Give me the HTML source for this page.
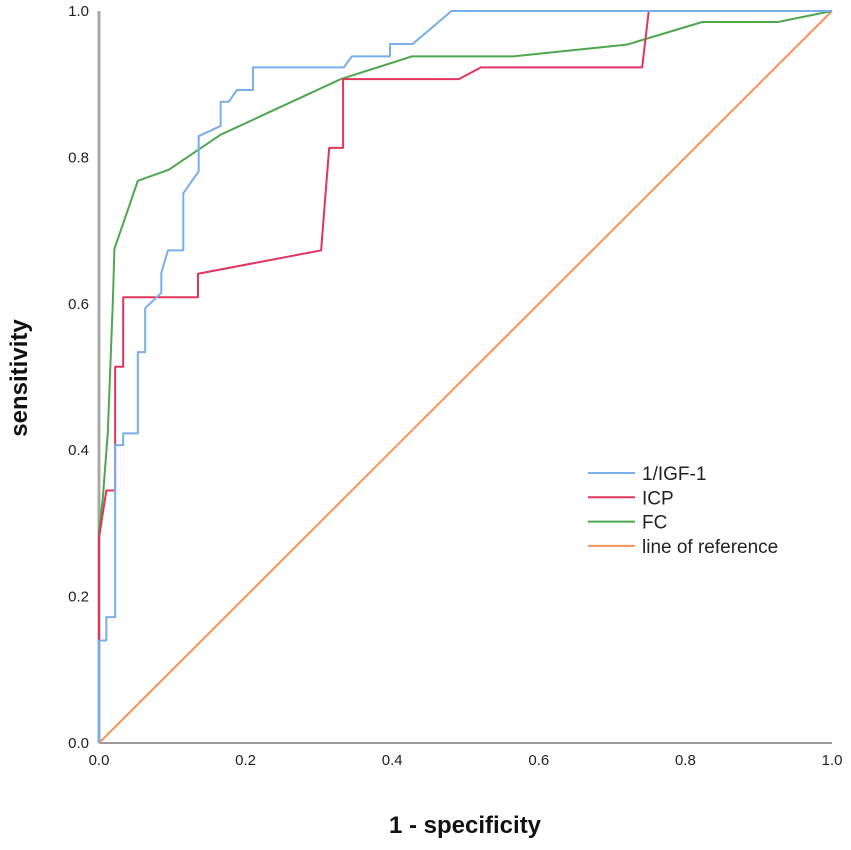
<!DOCTYPE html>
<html><head><meta charset="utf-8"><style>
body{margin:0;background:#fff;font-family:"Liberation Sans",sans-serif}
</style></head><body>
<svg id="c" width="851" height="845" xmlns="http://www.w3.org/2000/svg"></svg>
<script>
const xTicks=[0,0.2,0.4,0.6,0.8,1.0];
const yTicks=[0,0.2,0.4,0.6,0.8,1.0];
const seriesNames=["1/IGF-1","ICP","FC","line of reference"];
const igfX=[0,0,0.01,0.01,0.022,0.022,0.033,0.033,0.053,0.053,0.063,0.063,0.085,0.085,0.094,0.115,0.115,0.136,0.136,0.166,0.166,0.177,0.188,0.21,0.21,0.334,0.345,0.397,0.397,0.428,0.481,1];
const igfY=[0,0.14,0.14,0.172,0.172,0.407,0.407,0.423,0.423,0.534,0.534,0.594,0.615,0.642,0.673,0.673,0.751,0.781,0.829,0.843,0.876,0.876,0.892,0.892,0.923,0.923,0.938,0.938,0.955,0.955,1,1];
const icpX=[0,0,0.01,0.022,0.022,0.033,0.033,0.135,0.135,0.303,0.314,0.333,0.333,0.491,0.521,0.741,0.75,1];
const icpY=[0,0.28,0.345,0.345,0.514,0.514,0.609,0.609,0.641,0.673,0.813,0.813,0.907,0.907,0.923,0.923,1,1];
const fcX=[0,0,0.005,0.012,0.019,0.021,0.053,0.095,0.166,0.33,0.427,0.565,0.72,0.823,0.926,1];
const fcY=[0,0.29,0.332,0.424,0.606,0.675,0.768,0.783,0.831,0.907,0.938,0.938,0.954,0.985,0.985,1];
const refX=[0,1];
const refY=[0,1];
const colors=["#78aeea","#e0355f","#4ea64e","#f4935a"];

const svg=document.getElementById('c');
const NS="http://www.w3.org/2000/svg";
const X0=99,X1=832,Y0=743,Y1=11;
const sx=v=>X0+v*(X1-X0);
const sy=v=>Y0-v*(Y0-Y1);
function mk(t,a){const e=document.createElementNS(NS,t);for(const k in a)e.setAttribute(k,a[k]);svg.appendChild(e);return e;}

let ax=mk('line',{x1:X0,y1:Y0,x2:X1,y2:Y0,stroke:'#9a9a9a','stroke-width':2});


let ay=mk('line',{x1:X0,y1:Y1,x2:X0,y2:Y0,stroke:'#a8a8a8','stroke-width':3});



xTicks.forEach(v=>{const t=mk('text',{x:sx(v),y:Y0+22,'text-anchor':'middle','font-size':15,fill:'#222'});t.textContent=v.toFixed(1);

});
yTicks.forEach(v=>{const t=mk('text',{x:X0-10,y:sy(v)+5,'text-anchor':'end','font-size':15,fill:'#222'});t.textContent=v.toFixed(1);

});

const xt=mk('text',{x:465,y:833,'text-anchor':'middle','font-size':24,'font-weight':'bold',fill:'#111'});xt.textContent='1 - specificity';


const yt=mk('text',{x:0,y:0,'text-anchor':'middle','font-size':24,'font-weight':'bold',fill:'#111',transform:'translate(27,378) rotate(-90)'});yt.textContent='sensitivity';



const sets=[[refX,refY],[fcX,fcY],[icpX,icpY],[igfX,igfY]];
const idx=[3,2,1,0];
const lnames=['reference-line','fc-curve','icp-curve','igf-curve'];
sets.forEach((s,i)=>{const pts=s[0].map((x,j)=>sx(x)+','+sy(s[1][j])).join(' ');
const p=mk('polyline',{points:pts,fill:'none',stroke:colors[idx[i]],'stroke-width':2,'stroke-linejoin':'round'});

});

seriesNames.forEach((n,i)=>{const y=473+i*24.3;
const l=mk('line',{x1:588,y1:y,x2:635,y2:y,stroke:colors[i],'stroke-width':2});


const t=mk('text',{x:642,y:y+7,'font-size':19,fill:'#222'});t.textContent=n;

});
</script>
</body></html>
